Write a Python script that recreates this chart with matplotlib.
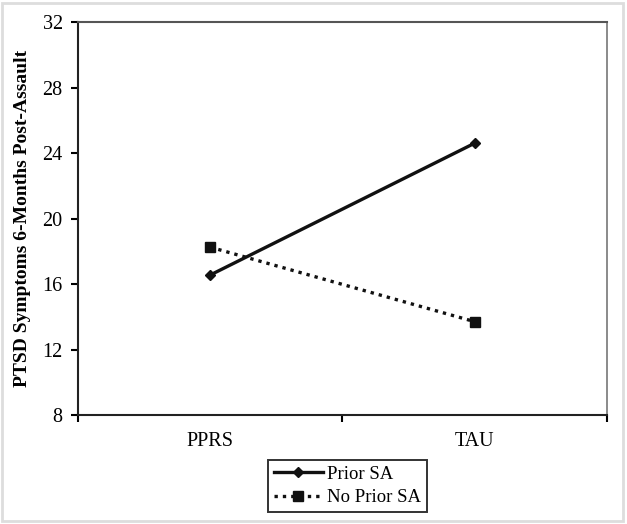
import matplotlib
matplotlib.use("Agg")
import matplotlib.pyplot as plt
from matplotlib.patches import Rectangle

# data
groups = ["PPRS", "TAU"]
prior_sa = [16.55, 24.6]
no_prior_sa = [18.25, 13.7]

plt.rcParams["font.family"] = ["Liberation Serif", "DejaVu Serif"]

fig = plt.figure(figsize=(6.27, 5.24), dpi=100)
ax = fig.add_axes([0.1244, 0.208, 0.8436, 0.750])

x = range(len(groups))
ax.plot(x, prior_sa, color="#111111", lw=2.4, marker="D", ms=5, label="Prior SA")
ax.plot(x, no_prior_sa, color="#111111", lw=2.4, ls=(0, (1, 1.5)), marker="s", ms=6.5,
        label="No Prior SA")

ax.set_xlim(-0.5, 1.5)
ax.set_ylim(8, 32)
ax.set_yticks(range(8, 33, 4))
ax.set_xticks([-0.5, 0.5, 1.5])
ax.set_xticklabels([])
ax.set_xticks(list(x), minor=True)
ax.set_xticklabels(groups, minor=True, fontsize=14.5)
ax.tick_params(axis="x", which="minor", length=0, pad=12)
ax.tick_params(axis="x", which="major", direction="out", length=5, width=1.5)
ax.tick_params(axis="y", direction="out", length=5, width=1.5, labelsize=14.5, pad=6)

for side in ax.spines.values():
    side.set_linewidth(1.5)
    side.set_color("#222222")
ax.spines["top"].set_color("#555555")
ax.spines["right"].set_color("#777777")
ax.spines["right"].set_linewidth(1.2)

ax.set_ylabel("PTSD Symptoms 6-Months Post-Assault", fontsize=14, fontweight="bold",
              labelpad=8)

leg = ax.legend(loc="upper center", bbox_to_anchor=(0.51, -0.1), fontsize=13.5,
                frameon=True, fancybox=False, edgecolor="black", borderpad=0.3,
                handlelength=2.6, handletextpad=0.25, labelspacing=0.35,
                borderaxespad=0.3)
leg.get_frame().set_linewidth(1.4)

fig.patches.append(Rectangle((0.003, 0.005), 0.99, 0.99, transform=fig.transFigure,
                             fill=False, edgecolor="#dddddd", lw=2))

fig.savefig("out.png", dpi=100)
